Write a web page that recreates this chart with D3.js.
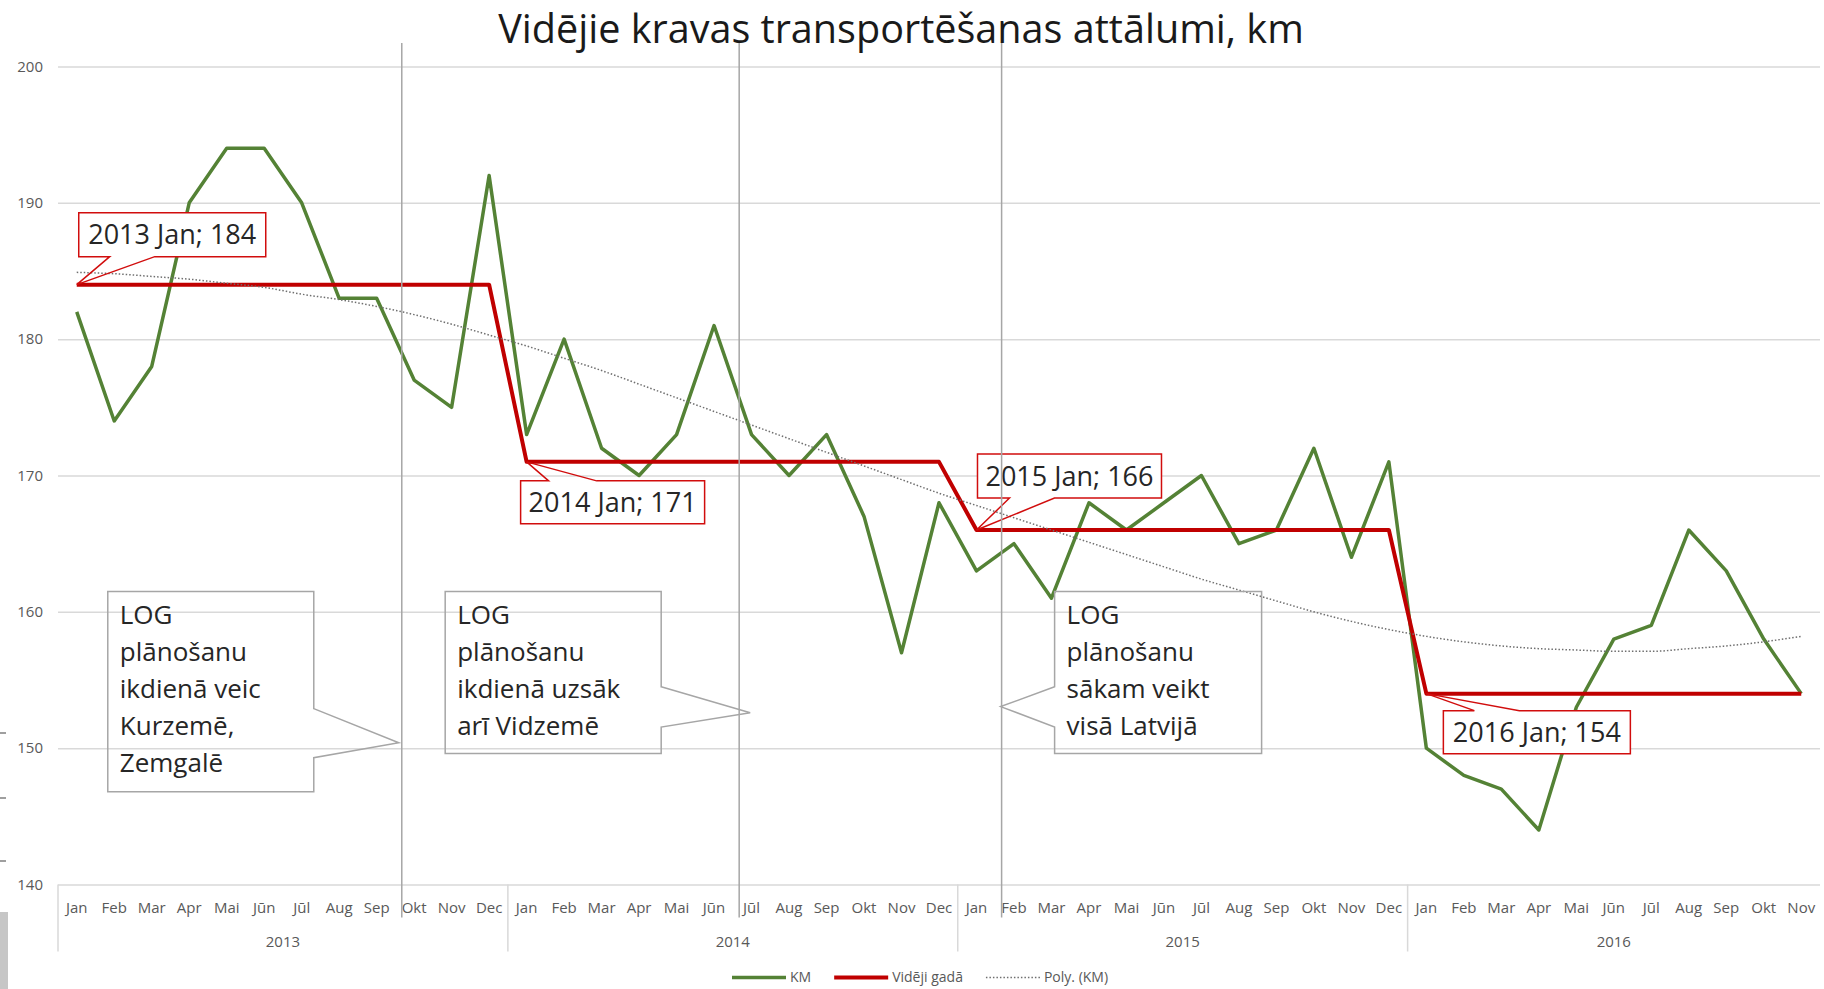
<!DOCTYPE html>
<html>
<head>
<meta charset="utf-8">
<script src="https://cdn.jsdelivr.net/npm/d3@7"></script>
<style>
  body { margin: 0; background: #fff; }
  svg text { font-family: "Open Sans", "Noto Sans", sans-serif; }
</style>
</head>
<body>
<div id="chart"></div>
<script>
// ---- data ----
var months = ["Jan", "Feb", "Mar", "Apr", "Mai", "Jūn", "Jūl", "Aug", "Sep", "Okt", "Nov", "Dec"];
var years = [2013, 2014, 2015, 2016];
var monthsPerYear = [12, 12, 12, 11];

var kmValues = [
    182, 174, 178, 190, 194, 194, 190, 183, 183, 177, 175, 192,
    173, 180, 172, 170, 173, 181, 173, 170, 173, 167, 157, 168,
    163, 165, 161, 168, 166, 168, 170, 165, 166, 172, 164, 171,
    150, 148, 147, 144, 153, 158, 159, 166, 163, 158, 154
];
var yearAverage = [184, 171, 166, 154];
// Poly. (KM) trendline
var polyValues = [
    184.9, 184.8, 184.6, 184.4, 184.1, 183.8, 183.3, 182.9, 182.4, 181.8, 181.1, 180.3,
    179.5, 178.6, 177.7, 176.7, 175.7, 174.7, 173.7, 172.7, 171.7, 170.7, 169.7, 168.7,
    167.8, 166.9, 166.0, 165.1, 164.2, 163.3, 162.4, 161.6, 160.8, 160.0, 159.3, 158.7,
    158.2, 157.8, 157.5, 157.3, 157.2, 157.1, 157.1, 157.3, 157.5, 157.8, 158.2
];
var yTicks = [140, 150, 160, 170, 180, 190, 200];

// vertical marker lines: Okt 2013, Jūl 2014, Feb 2015
var markerMonths = [9, 18, 25];
var noteTexts = [
    ["LOG", "plānošanu", "ikdienā veic", "Kurzemē,", "Zemgalē"],
    ["LOG", "plānošanu", "ikdienā uzsāk", "arī Vidzemē"],
    ["LOG", "plānošanu", "sākam veikt", "visā Latvijā"]
];

var titleText = "Vidējie kravas transportēšanas attālumi, km";
var legendLabels = ["KM", "Vidēji gadā", "Poly. (KM)"];

// ---- layout ----
var svgWidth = 1824;
var svgHeight = 989;
var plot = { left: 58, right: 1820, top: 66.5, bottom: 884.5 };

var green = "#548235";
var red = "#c00000";
var axisText = "#595959";
var gridColor = "#d9d9d9";

var svg = d3.select("#chart")
    .append("svg")
    .attr("width", svgWidth)
    .attr("height", svgHeight);

// build the category list
var categories = [];
years.forEach(function (yr, yi) {
    for (var m = 0; m < monthsPerYear[yi]; m++) {
        categories.push({ key: yr + "-" + m, year: yr, yi: yi, month: months[m] });
    }
});
var data = categories.map(function (c, i) {
    return { key: c.key, year: c.year, month: c.month, km: kmValues[i], avg: yearAverage[c.yi], poly: polyValues[i] };
});

var x = d3.scaleBand()
    .domain(categories.map(d => d.key))
    .range([plot.left, plot.right])
    .padding(0);
// fractional category position (band units)
var xi = d3.scaleLinear()
    .domain([0, categories.length])
    .range([plot.left, plot.right]);
var y = d3.scaleLinear()
    .domain([140, 200])
    .range([plot.bottom, plot.top]);
var cx = d => x(d.key) + x.bandwidth() / 2;

// small leftovers of the neighbouring chart at the left edge
[733, 798, 861].forEach(function (ty) {
    svg.append("line").attr("x1", 0).attr("x2", 6).attr("y1", ty).attr("y2", ty)
        .attr("stroke", "#7f7f7f").attr("stroke-width", 1.5);
});
svg.append("rect").attr("x", 0).attr("y", 912).attr("width", 8).attr("height", 77).attr("fill", "#c6c6c6");

// title
svg.append("text")
    .attr("x", 901)
    .attr("y", 43)
    .attr("text-anchor", "middle")
    .attr("font-size", 39.6)
    .attr("fill", "#1a1a1a")
    .text(titleText);

// gridlines
svg.append("g")
    .attr("transform", `translate(${plot.left}, 0)`)
    .call(d3.axisLeft(y).tickValues(yTicks).tickSize(-(plot.right - plot.left)).tickFormat(""))
    .call(g => g.select(".domain").remove())
    .selectAll("line")
    .attr("stroke", gridColor)
    .attr("stroke-width", 1.5);

// y labels
svg.append("g")
    .attr("transform", `translate(${plot.left}, 0)`)
    .call(d3.axisLeft(y).tickValues(yTicks).tickSize(0).tickPadding(15))
    .call(g => g.select(".domain").remove())
    .selectAll("text")
    .attr("font-family", null)
    .attr("font-size", 15)
    .attr("fill", axisText);

// month labels
var monthOf = {};
categories.forEach(c => monthOf[c.key] = c.month);
svg.append("g")
    .attr("transform", `translate(0, ${plot.bottom})`)
    .call(d3.axisBottom(x).tickSize(0).tickPadding(18).tickFormat(k => monthOf[k]))
    .call(g => g.select(".domain").remove())
    .selectAll("text")
    .attr("font-family", null)
    .attr("font-size", 15)
    .attr("fill", axisText);

// year group separators and labels
var start = 0;
years.forEach(function (yr, yi) {
    svg.append("line")
        .attr("x1", xi(start)).attr("x2", xi(start))
        .attr("y1", plot.bottom).attr("y2", plot.bottom + 67)
        .attr("stroke", gridColor).attr("stroke-width", 1.5);
    svg.append("text")
        .attr("x", xi(start + monthsPerYear[yi] / 2))
        .attr("y", plot.bottom + 62.5)
        .attr("text-anchor", "middle")
        .attr("font-size", 15)
        .attr("fill", axisText)
        .text(yr);
    start += monthsPerYear[yi];
});

// series
var lineKm = d3.line().x(cx).y(d => y(d.km));
var lineAvg = d3.line().x(cx).y(d => y(d.avg));
var linePoly = d3.line().curve(d3.curveMonotoneX).x(cx).y(d => y(d.poly));

svg.append("path").datum(data)
    .attr("d", lineKm).attr("fill", "none")
    .attr("stroke", green).attr("stroke-width", 3.5).attr("stroke-linejoin", "round");

svg.append("path").datum(data)
    .attr("d", lineAvg).attr("fill", "none")
    .attr("stroke", red).attr("stroke-width", 4).attr("stroke-linejoin", "round");

svg.append("path").datum(data)
    .attr("d", linePoly).attr("fill", "none")
    .attr("stroke", "#6f6f6f").attr("stroke-width", 1.5).attr("stroke-dasharray", "1.5,2");

// red data callouts at each January of the yearly average
// box offsets from the point: [x0, x1, y0, y1], pointer base on the box edge
var redCallouts = [
    { dir: "up", box: [2, 189, -72, -28], base: [33, 78] },
    { dir: "down", box: [-6, 178, 19, 62], base: [22, 70] },
    { dir: "up", box: [1, 185, -76, -32], base: [33, 78] },
    { dir: "down", box: [17, 204, 17, 60], base: [48, 93] }
];
var firstIdx = 0;
years.forEach(function (yr, yi) {
    var d = data[firstIdx];
    firstIdx += monthsPerYear[yi];
    var c = redCallouts[yi];
    var px = cx(d), py = y(d.avg);
    var x0 = px + c.box[0], x1 = px + c.box[1], y0 = py + c.box[2], y1 = py + c.box[3];
    var edge = c.dir === "up" ? y1 : y0;
    var far = c.dir === "up" ? y0 : y1;
    var p = d3.path();
    p.moveTo(px + c.base[0], edge);
    p.lineTo(px, py);
    p.lineTo(px + c.base[1], edge);
    p.lineTo(x1, edge);
    p.lineTo(x1, far);
    p.lineTo(x0, far);
    p.lineTo(x0, edge);
    p.closePath();

    var g = svg.append("g");
    g.append("rect")
        .attr("x", x0).attr("y", y0).attr("width", x1 - x0).attr("height", y1 - y0)
        .attr("fill", "#fff");
    g.append("path")
        .attr("d", p.toString())
        .attr("fill", "none")
        .attr("stroke", "#d10d0d")
        .attr("stroke-width", 1.5);
    g.append("text")
        .attr("x", (x0 + x1) / 2)
        .attr("y", (y0 + y1) / 2)
        .attr("dy", "0.36em")
        .attr("text-anchor", "middle")
        .attr("font-size", 27)
        .attr("fill", "#262626")
        .text(`${d.year} ${d.month}; ${d.avg}`);
});

// gray note callouts, anchored to the marker lines
var grayCallouts = [
    { side: "right", tipDx: -3, tipV: 150.4, x0: -294, x1: -88, v0: 161.5, v1: 146.8, j0: 152.9, j1: 149.3 },
    { side: "right", tipDx: 11, tipV: 152.6, x0: -294, x1: -78, v0: 161.5, v1: 149.6, j0: 154.5, j1: 151.55 },
    { side: "left", tipDx: -1, tipV: 153.05, x0: 53, x1: 260, v0: 161.5, v1: 149.6, j0: 154.5, j1: 151.55 }
];
markerMonths.forEach(function (m, i) {
    var c = grayCallouts[i];
    var mx = xi(m + 0.17);
    var bx0 = mx + c.x0, bx1 = mx + c.x1, by0 = y(c.v0), by1 = y(c.v1);
    var sx = c.side === "right" ? bx1 : bx0;
    var ox = c.side === "right" ? bx0 : bx1;
    var p = d3.path();
    p.moveTo(sx, y(c.j0));
    p.lineTo(mx + c.tipDx, y(c.tipV));
    p.lineTo(sx, y(c.j1));
    p.lineTo(sx, by1);
    p.lineTo(ox, by1);
    p.lineTo(ox, by0);
    p.lineTo(sx, by0);
    p.closePath();
    svg.append("path")
        .attr("d", p.toString())
        .attr("fill", "none")
        .attr("stroke", "#a6a6a6")
        .attr("stroke-width", 1.5);
    svg.append("g").selectAll("text")
        .data(noteTexts[i])
        .enter()
        .append("text")
        .attr("x", bx0 + 12)
        .attr("y", (t, j) => by0 + 33 + j * 37)
        .attr("font-size", 26)
        .attr("fill", "#262626")
        .text(t => t);
});

// marker lines on top
svg.append("g").selectAll("line")
    .data(markerMonths)
    .enter()
    .append("line")
    .attr("x1", m => xi(m + 0.17))
    .attr("x2", m => xi(m + 0.17))
    .attr("y1", plot.top - 23.5)
    .attr("y2", plot.bottom + 33)
    .attr("stroke", "#a6a6a6")
    .attr("stroke-width", 1.5);

// legend
var legendY = 977.5;
var lx = 732;
legendLabels.forEach(function (label, i) {
    var sw = svg.append("line")
        .attr("x1", lx).attr("x2", lx + 54)
        .attr("y1", legendY).attr("y2", legendY);
    if (i === 0) sw.attr("stroke", green).attr("stroke-width", 3.5);
    if (i === 1) sw.attr("stroke", red).attr("stroke-width", 4);
    if (i === 2) sw.attr("stroke", "#6f6f6f").attr("stroke-width", 1.5).attr("stroke-dasharray", "1.5,2");
    var t = svg.append("text")
        .attr("x", lx + 58)
        .attr("y", legendY)
        .attr("dy", "0.35em")
        .attr("font-size", 14)
        .attr("fill", axisText)
        .text(label);
    lx += 58 + t.node().getComputedTextLength() + 23;
});
</script>
</body>
</html>
